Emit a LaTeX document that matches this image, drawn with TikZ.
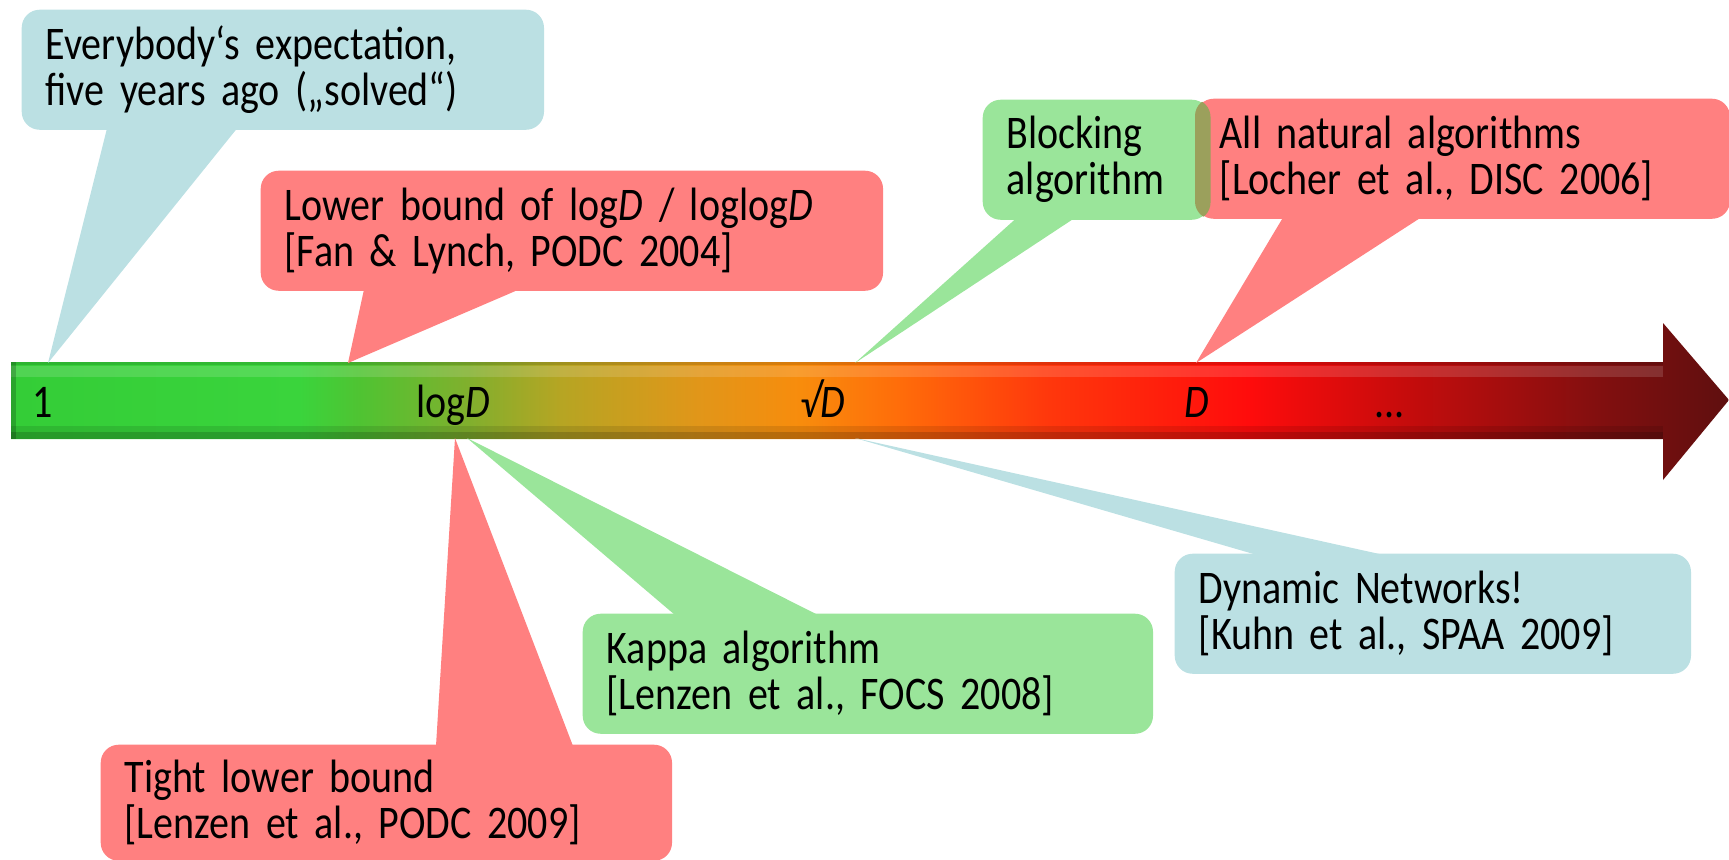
\documentclass[tikz,border=0pt]{standalone}
\usepackage{fontspec}
\setmainfont{Carlito}[FakeStretch=0.855]
\usetikzlibrary{calc}

\definecolor{bluebox}{RGB}{187,224,227}
\definecolor{redbox}{RGB}{255,128,128}
\definecolor{greenbox}{RGB}{154,229,154}
\definecolor{mixbox}{RGB}{155,160,92}

% colours along the axis, left to right
\definecolor{axA}{RGB}{52,205,55}
\definecolor{axB}{RGB}{58,212,60}
\definecolor{axC}{RGB}{80,195,50}
\definecolor{axD}{RGB}{130,175,45}
\definecolor{axE}{RGB}{182,165,35}
\definecolor{axF}{RGB}{225,150,25}
\definecolor{axG}{RGB}{248,140,12}
\definecolor{axH}{RGB}{255,108,10}
\definecolor{axI}{RGB}{255,55,12}
\definecolor{axJ}{RGB}{255,12,12}
\definecolor{axK}{RGB}{200,12,12}
\definecolor{axL}{RGB}{130,15,15}
\definecolor{axM}{RGB}{95,15,15}

\pgfdeclarehorizontalshading{axisgrad}{100bp}{color(0bp)=(axA); color(25bp)=(axA);
  color(33.4bp)=(axB); color(35.2bp)=(axC); color(38.4bp)=(axD); color(41bp)=(axE);
  color(45bp)=(axF); color(48bp)=(axG); color(50.9bp)=(axH); color(55.2bp)=(axI);
  color(61bp)=(axJ); color(65.4bp)=(axK); color(71.2bp)=(axL); color(75bp)=(axM);
  color(100bp)=(axM)}

\tikzset{
  callout/.style={anchor=north west, rounded corners=0.18cm, inner xsep=0.24cm,
    inner ysep=0pt, minimum height=1.2cm, align=left,
    font=\fontsize{13.3}{13.1}\selectfont},
  bluecall/.style={callout, fill=bluebox},
  redcall/.style={callout, fill=redbox},
  greencall/.style={callout, fill=greenbox},
  axislabel/.style={anchor=base west, inner sep=0pt, font=\fontsize{13.3}{13.1}\selectfont}
}

\begin{document}
\begin{tikzpicture}[x=0.01cm, y=-0.01cm]
\useasboundingbox (0,0) rectangle (1729,860);

% the axis
\shade[shading=axisgrad] (11,362) -- (1663,362) -- (1663,323) -- (1729,400)
  -- (1663,480) -- (1663,439) -- (11,439) -- cycle;
\fill[black, fill opacity=.12] (11,362) rectangle (1663,365);
\fill[white, fill opacity=.14] (11,366) rectangle (1663,377);
\fill[black, fill opacity=.1] (11,426) rectangle (1663,432);
\fill[black, fill opacity=.25] (11,432) rectangle (1663,439);
\fill[black, fill opacity=.2] (11,362) rectangle (16,439);

\node[axislabel] (one) at (32,417) {1};
\node[axislabel] (logd) at (416,417) {log\textit{D}};
\node[axislabel] (sqrtd) at (800,417) {\textit{√D}};
\node[axislabel] (dd) at (1184,417) {\textit{D}};
\node[axislabel] (dots) at (1374,417) {...};

\coordinate (t1) at (48,363);
\coordinate (t2) at (348,363);
\coordinate (t3) at (855,363);
\coordinate (t4) at (1196,363);
\coordinate (b2) at (455,438);
\coordinate (b3) at (467,438);
\coordinate (b4) at (855,438);

% boxes
\node[bluecall, text width=4.74cm] (expect) at (21,9)
  {Everybody‘s expectation,\\ five years ago („solved“)};
\node[redcall, text width=5.74cm] (fanlynch) at (260,170)
  {Lower bound of log\textit{D} / loglog\textit{D}\\ {[}Fan \& Lynch, PODC 2004]};
\node[greencall, text width=1.79cm] (blocking) at (982,99)
  {Blocking\\ algorithm};
\node[redcall, text width=4.86cm] (natural) at (1195,98)
  {All natural algorithms\\ {[}Locher et al., DISC 2006]};
\begin{scope}
  \clip[rounded corners=0.18cm] (blocking.north west) rectangle (blocking.south east);
  \fill[mixbox, rounded corners=0.18cm] (natural.north west) rectangle (natural.south east);
\end{scope}
\node[redcall, text width=5.23cm, minimum height=1.16cm] (tight) at (100,744)
  {Tight lower bound\\ {[}Lenzen et al., PODC 2009]};
\node[greencall, text width=5.22cm] (kappa) at (582,613)
  {Kappa algorithm\\ {[}Lenzen et al., FOCS 2008]};
\node[bluecall, text width=4.68cm] (dynamic) at (1174,553)
  {Dynamic Networks!\\ {[}Kuhn et al., SPAA 2009]};

% tails
\fill[bluebox] (t1) -- ($(expect.south west)+(86,-2)$) -- ($(expect.south west)+(216,-2)$) -- cycle;
\fill[redbox] (t2) -- ($(fanlynch.south west)+(104,-2)$) -- ($(fanlynch.south west)+(259,-2)$) -- cycle;
\fill[greenbox] (t3) -- ($(blocking.south west)+(34,-2)$) -- ($(blocking.south west)+(92,-2)$) -- cycle;
\fill[redbox] (t4) -- ($(natural.south west)+(88,-2)$) -- ($(natural.south west)+(226,-2)$) -- cycle;
\fill[redbox] (b2) -- ($(tight.north west)+(336,2)$) -- ($(tight.north west)+(473,2)$) -- cycle;
\fill[greenbox] (b3) -- ($(kappa.north west)+(93,2)$) -- ($(kappa.north west)+(236,2)$) -- cycle;
\fill[bluebox] (b4) -- ($(dynamic.north west)+(83,2)$) -- ($(dynamic.north west)+(210,2)$) -- cycle;
\end{tikzpicture}
\end{document}
